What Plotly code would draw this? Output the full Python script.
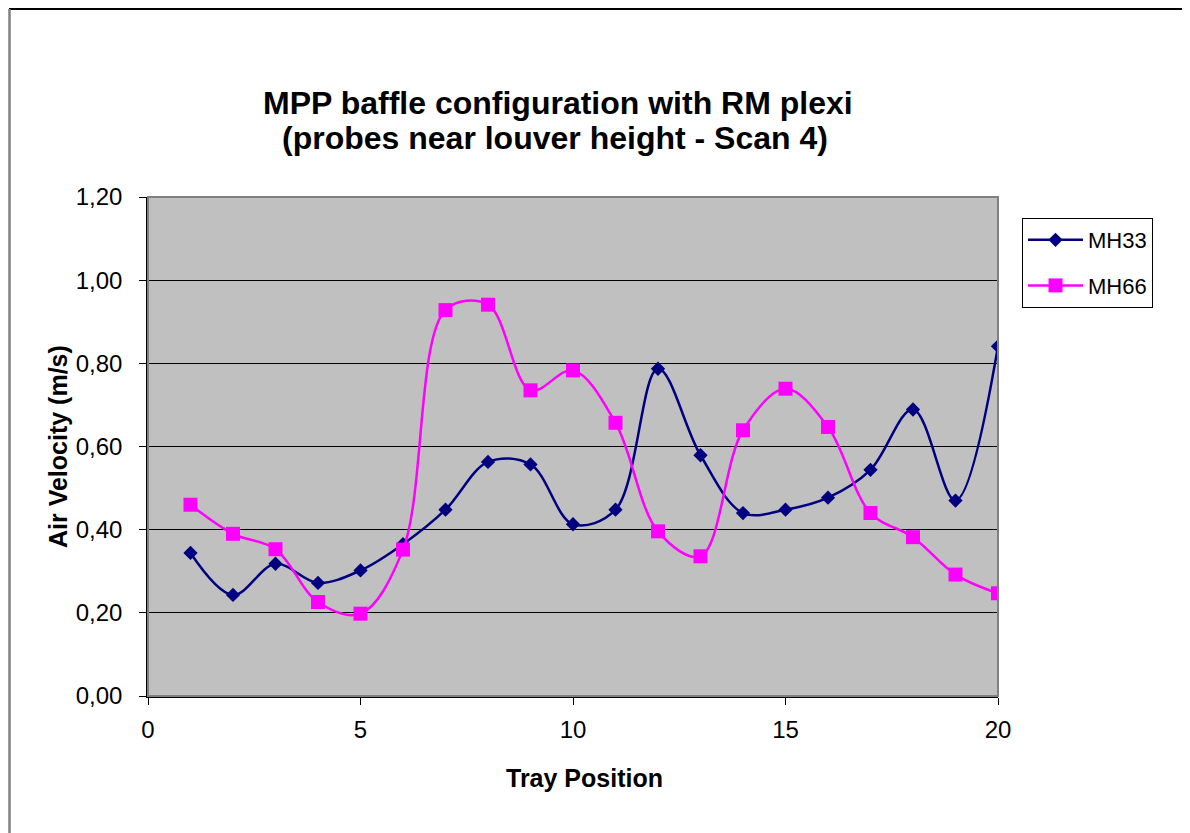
import plotly.graph_objects as go

tray = list(range(1, 21))
mh33 = [0.344, 0.243, 0.318, 0.272, 0.302, 0.365, 0.448, 0.563, 0.557, 0.413,
        0.448, 0.787, 0.579, 0.440, 0.448, 0.477, 0.544, 0.689, 0.470, 0.841]
mh66 = [0.460, 0.390, 0.353, 0.226, 0.198, 0.352, 0.928, 0.941, 0.735, 0.783,
        0.657, 0.396, 0.336, 0.639, 0.739, 0.647, 0.440, 0.382, 0.292, 0.247]
x_ticks = [0, 5, 10, 15, 20]
y_ticks = [0.0, 0.2, 0.4, 0.6, 0.8, 1.0, 1.2]

FONT = "Liberation Sans, Arial, sans-serif"

OFF = 8  # page body margin
W, H = 1190 - OFF, 833 - OFF
L, R, T, B = 148, 998, 197, 696  # plot area in page pixels
pw, ph = R - L, B - T

def px(x):
    return (x - L) / pw

def py(y):
    return (B - y) / ph

fig = go.Figure()
fig.add_trace(go.Scatter(
    x=tray, y=mh33, name="MH33", mode="lines+markers", legendgroup="a",
    line=dict(color="#000080", width=2.5, shape="spline", smoothing=1.0),
    marker=dict(symbol="diamond", size=11, color="#000080"),
))
fig.add_trace(go.Scatter(
    x=tray, y=mh66, name="MH66", mode="lines+markers", legendgroup="b",
    line=dict(color="#FF00FF", width=2.5, shape="spline", smoothing=1.0),
    marker=dict(symbol="square", size=14, color="#FF00FF"),
))

shapes = [
    dict(type="rect", xref="paper", yref="paper", x0=0, y0=0, x1=1, y1=1,
         line=dict(color="#808080", width=2), layer="above"),
    dict(type="line", xref="paper", yref="paper", x0=px(9), x1=px(1185),
         y0=py(9), y1=py(9), line=dict(color="black", width=2)),
    dict(type="line", xref="paper", yref="paper", x0=px(9.5), x1=px(9.5),
         y0=py(9), y1=py(845), line=dict(color="#808080", width=2.5)),
    dict(type="line", xref="paper", yref="paper", x0=px(1185), x1=px(1185),
         y0=py(9), y1=py(845), line=dict(color="#808080", width=2.5)),
]

annotations = [
    dict(text="<b>MPP baffle configuration with RM plexi</b>",
         xref="paper", yref="paper", x=px(558), y=py(103), showarrow=False,
         font=dict(family=FONT, size=32, color="black"),
         xanchor="center", yanchor="middle"),
    dict(text="<b>(probes near louver height - Scan 4)</b>",
         xref="paper", yref="paper", x=px(555), y=py(138), showarrow=False,
         font=dict(family=FONT, size=32, color="black"),
         xanchor="center", yanchor="middle"),
    dict(text="<b>Tray Position</b>", xref="paper", yref="paper",
         x=px(584), y=py(778), showarrow=False,
         font=dict(family=FONT, size=25, color="black"),
         xanchor="center", yanchor="middle"),
    dict(text="<b>Air Velocity (m/s)</b>", xref="paper", yref="paper",
         x=px(58), y=py(447), showarrow=False, textangle=-90,
         font=dict(family=FONT, size=25, color="black"),
         xanchor="center", yanchor="middle"),
]

fig.update_layout(
    width=W, height=H,
    margin=dict(l=L - OFF, r=W - (R - OFF), t=T - OFF, b=H - (B - OFF), pad=0),
    paper_bgcolor="white",
    plot_bgcolor="#C0C0C0",
    separators=",.",
    font=dict(family=FONT, size=24, color="black"),
    showlegend=True,
    legend=dict(x=px(1022), y=py(218), xanchor="left", yanchor="top",
                bordercolor="black", borderwidth=1, bgcolor="white",
                font=dict(family=FONT, size=22), itemwidth=55,
                tracegroupgap=14),
    shapes=shapes,
    annotations=annotations,
    xaxis=dict(range=[0, 20], tickvals=x_ticks, showgrid=False, zeroline=False,
               showline=True, linecolor="black", linewidth=1.5,
               ticks="outside", ticklen=7, tickcolor="black",
               ticklabelstandoff=4,
               tickfont=dict(family=FONT, size=24)),
    yaxis=dict(range=[0, 1.2], tickvals=y_ticks, tickformat=".2f",
               showgrid=True, gridcolor="black", gridwidth=1, zeroline=False,
               showline=True, linecolor="black", linewidth=1.5,
               ticks="outside", ticklen=7, tickcolor="black",
               ticklabelstandoff=12,
               tickfont=dict(family=FONT, size=24)),
)

fig.write_html("out.html")
